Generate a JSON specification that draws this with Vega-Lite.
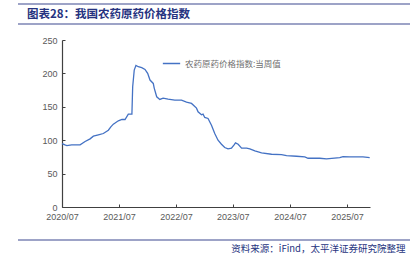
{
  "$schema": "https://vega.github.io/schema/vega-lite/v6.json",
  "width": 308,
  "height": 167,
  "autosize": {"type": "none"},
  "padding": {"left": 62, "top": 40, "right": 48, "bottom": 49},
  "background": "white",
  "config": {
    "view": {"stroke": null},
    "font": "Noto Sans CJK SC",
    "title": {"font": "Noto Sans CJK SC"}
  },
  "title": {
    "text": "图表28：我国农药原药价格指数",
    "anchor": "start",
    "frame": "group",
    "dx": -35,
    "dy": 17,
    "offset": 0,
    "fontSize": 11.5,
    "fontWeight": "bold",
    "color": "#263380"
  },
  "datasets": {
    "idx": [
      {"date": "2020-07-01", "v": 95},
      {"date": "2020-07-20", "v": 93},
      {"date": "2020-08-01", "v": 92},
      {"date": "2020-09-01", "v": 93},
      {"date": "2020-10-25", "v": 93},
      {"date": "2020-11-26", "v": 98},
      {"date": "2020-12-28", "v": 102},
      {"date": "2021-01-18", "v": 106},
      {"date": "2021-02-19", "v": 108},
      {"date": "2021-03-23", "v": 110},
      {"date": "2021-04-24", "v": 115},
      {"date": "2021-05-10", "v": 120},
      {"date": "2021-05-26", "v": 124},
      {"date": "2021-06-27", "v": 129},
      {"date": "2021-07-20", "v": 131},
      {"date": "2021-08-09", "v": 131},
      {"date": "2021-08-30", "v": 139},
      {"date": "2021-09-22", "v": 139},
      {"date": "2021-09-27", "v": 180},
      {"date": "2021-10-07", "v": 205},
      {"date": "2021-10-18", "v": 212},
      {"date": "2021-11-02", "v": 210},
      {"date": "2021-11-24", "v": 208.5},
      {"date": "2021-12-15", "v": 206},
      {"date": "2022-01-01", "v": 200},
      {"date": "2022-01-16", "v": 190},
      {"date": "2022-02-06", "v": 185},
      {"date": "2022-02-12", "v": 178},
      {"date": "2022-02-28", "v": 165},
      {"date": "2022-03-20", "v": 161},
      {"date": "2022-04-10", "v": 163},
      {"date": "2022-05-12", "v": 161.5},
      {"date": "2022-06-24", "v": 160},
      {"date": "2022-08-06", "v": 160},
      {"date": "2022-09-07", "v": 157},
      {"date": "2022-10-09", "v": 155},
      {"date": "2022-11-10", "v": 148},
      {"date": "2022-11-20", "v": 142.5},
      {"date": "2022-12-12", "v": 138},
      {"date": "2022-12-22", "v": 139},
      {"date": "2023-01-02", "v": 134},
      {"date": "2023-01-23", "v": 132.5},
      {"date": "2023-02-14", "v": 122.5},
      {"date": "2023-03-07", "v": 110},
      {"date": "2023-03-28", "v": 100},
      {"date": "2023-04-19", "v": 94},
      {"date": "2023-05-10", "v": 89},
      {"date": "2023-05-31", "v": 87},
      {"date": "2023-06-22", "v": 88},
      {"date": "2023-07-09", "v": 93},
      {"date": "2023-07-18", "v": 96},
      {"date": "2023-08-04", "v": 94},
      {"date": "2023-08-26", "v": 88},
      {"date": "2023-09-27", "v": 88},
      {"date": "2023-10-18", "v": 87},
      {"date": "2023-11-19", "v": 84},
      {"date": "2024-01-01", "v": 81},
      {"date": "2024-03-05", "v": 79},
      {"date": "2024-05-08", "v": 78.5},
      {"date": "2024-06-09", "v": 77},
      {"date": "2024-08-12", "v": 76},
      {"date": "2024-10-04", "v": 75},
      {"date": "2024-10-25", "v": 73},
      {"date": "2025-01-08", "v": 73},
      {"date": "2025-02-20", "v": 72},
      {"date": "2025-05-16", "v": 74},
      {"date": "2025-06-06", "v": 75.5},
      {"date": "2025-07-19", "v": 75},
      {"date": "2025-10-12", "v": 75},
      {"date": "2025-11-24", "v": 74}
    ]
  },
  "layer": [
    {
      "data": {"values": [{"k": "top"}]},
      "mark": {"type": "rule", "stroke": "#7d84b5", "strokeWidth": 1.5, "clip": false},
      "encoding": {
        "x": {"value": -44},
        "x2": {"value": 348},
        "y": {"value": -36}
      }
    },
    {
      "data": {"values": [{"k": "mid"}]},
      "mark": {"type": "rule", "stroke": "#7d84b5", "strokeWidth": 1.5, "clip": false},
      "encoding": {
        "x": {"value": -44},
        "x2": {"value": 348},
        "y": {"value": -16}
      }
    },
    {
      "data": {"values": [{"k": "bottom"}]},
      "mark": {"type": "rule", "stroke": "#7d84b5", "strokeWidth": 1.5, "clip": false},
      "encoding": {
        "x": {"value": -44},
        "x2": {"value": 348},
        "y": {"value": 200}
      }
    },
    {
      "data": {"name": "idx"},
      "transform": [{"calculate": "'农药原药价格指数:当周值'", "as": "series"}],
      "mark": {"type": "line", "strokeWidth": 1.3},
      "encoding": {
        "x": {
          "field": "date",
          "type": "temporal",
          "scale": {"domain": [{"year": 2020, "month": 7, "date": 1}, {"year": 2025, "month": 11, "date": 26}]},
          "axis": {
            "values": [
              {"year": 2020, "month": 7, "date": 1},
              {"year": 2021, "month": 7, "date": 1},
              {"year": 2022, "month": 7, "date": 1},
              {"year": 2023, "month": 7, "date": 1},
              {"year": 2024, "month": 7, "date": 1},
              {"year": 2025, "month": 7, "date": 1}
            ],
            "format": "%Y/%m",
            "grid": false,
            "domainColor": "#404040",
            "domainWidth": 1.2,
            "tickColor": "#404040",
            "tickSize": -3,
            "labelPadding": 8,
            "labelColor": "#595959",
            "labelFont": "Liberation Sans",
            "labelFontSize": 9,
            "labelFlush": false,
            "title": "资料来源：iFind，太平洋证券研究院整理",
            "titleAnchor": "end",
            "titleAlign": "right",
            "titleBaseline": "alphabetic",
            "titleX": 343,
            "titleY": 44,
            "titleFontSize": 9.5,
            "titleFontWeight": "normal",
            "titleColor": "#263380"
          }
        },
        "y": {
          "field": "v",
          "type": "quantitative",
          "scale": {"domain": [0, 250]},
          "axis": {
            "values": [0, 50, 100, 150, 200, 250],
            "grid": false,
            "domainColor": "#404040",
            "domainWidth": 1.2,
            "tickColor": "#404040",
            "tickSize": -3,
            "labelPadding": 8,
            "labelColor": "#595959",
            "labelFont": "Liberation Sans",
            "labelFontSize": 9,
            "title": null
          }
        },
        "color": {
          "field": "series",
          "type": "nominal",
          "scale": {"range": ["#4472c4"]},
          "legend": {
            "orient": "none",
            "legendX": 100,
            "legendY": 14,
            "title": null,
            "symbolType": "stroke",
            "symbolSize": 300,
            "symbolStrokeWidth": 1.5,
            "labelFontSize": 8.5,
            "labelColor": "#707070",
            "labelFont": "Noto Sans CJK SC"
          }
        }
      }
    }
  ]
}
